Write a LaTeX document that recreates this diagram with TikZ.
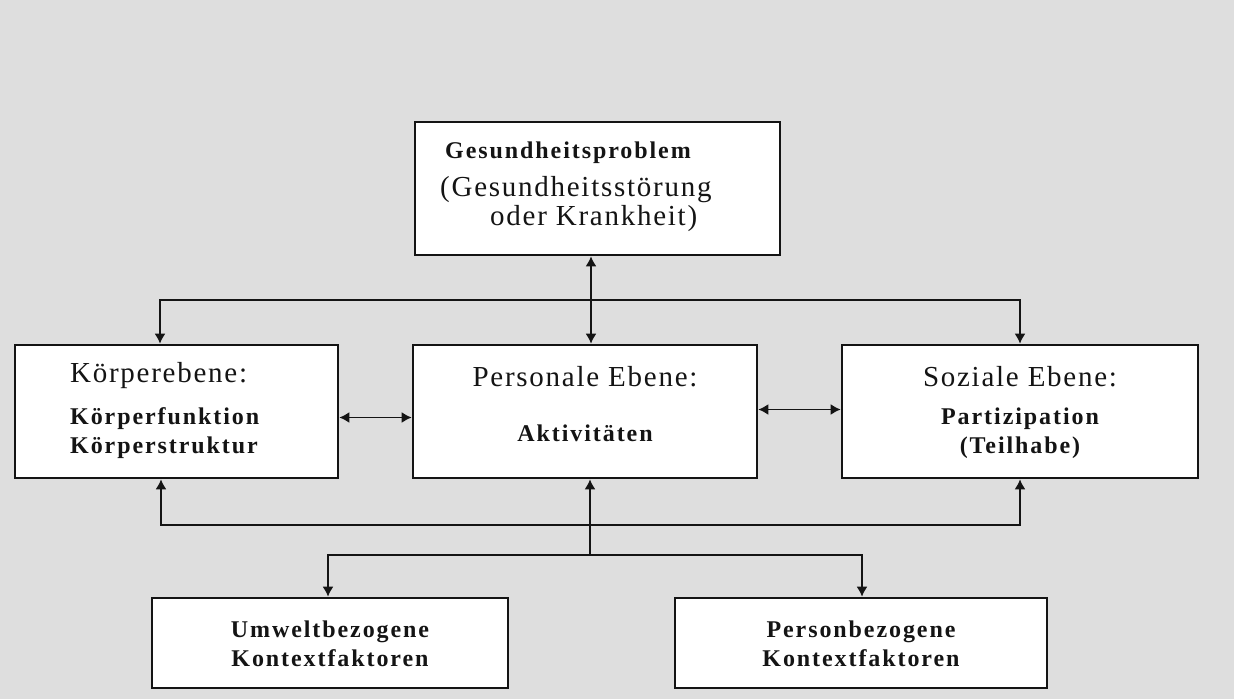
\documentclass[tikz,border=0pt]{standalone}
\usepackage{fontspec}
\setmainfont{Liberation Serif}
\usepackage{tikz}
\usetikzlibrary{arrows.meta}
\usetikzlibrary{positioning}
\usepackage{color}
\definecolor{paper}{RGB}{222, 222, 222}
\definecolor{ink}{RGB}{20, 20, 20}
\newcommand{\headfont}{\fontsize{29}{34}\selectfont\addfontfeatures{LetterSpace=6}}
\newcommand{\subfont}{\fontsize{24}{29}\selectfont\bfseries\addfontfeatures{LetterSpace=8}}

\begin{document}
\begin{tikzpicture}[x=1pt, y=-1pt,
        ebene/.style ={draw=ink, line width=2.6pt, fill=white, inner sep=0pt},
        kopf/.style  ={font=\headfont, text=ink, inner sep=0pt},
        inhalt/.style={font=\subfont, text=ink, inner sep=0pt, align=center},
        pfeil/.style ={draw=ink, line width=1.8pt, -{Latex[length=10pt, width=11pt]}},
        beide/.style ={pfeil, {Latex[length=10pt, width=11pt]}-{Latex[length=10pt, width=11pt]}}]
            \fill[paper]                                        (   0,   0) rectangle (1234, 699);
            \useasboundingbox                                   (   0,   0) rectangle (1234, 699);
            % Kaesten
            \node[ebene, minimum width=365, minimum height=133] (gp) at ( 597.5, 188.5) {};
            \node[ebene, minimum width=323, minimum height=133] (ke) at ( 176.5, 411.5) {};
            \node[ebene, minimum width=344, minimum height=133] (pe) at ( 585.0, 411.5) {};
            \node[ebene, minimum width=356, minimum height=133] (se) at (1020.0, 411.5) {};
            \node[ebene, minimum width=356, minimum height= 90] (uk) at ( 330.0, 643.0) {};
            \node[ebene, minimum width=372, minimum height= 90] (pk) at ( 861.0, 643.0) {};
            % Texte
            \node[inhalt, anchor=west] (gpa) at ( 445, 153) {Gesundheitsproblem};
            \node[kopf,   anchor=west] (gpb) at ( 440, 190) {(Gesundheitsstörung};
            \node[kopf,   anchor=west] (gpc) at ( 490, 219) {oder Krankheit)};
            \node[kopf,   anchor=west] (kea) at (  70, 376) {Körperebene:};
            \node[inhalt, anchor=west, align=left] (keb) at (70, 433) {Körperfunktion\\Körperstruktur};
            \node[kopf]                (pea) at ( 585, 377) {Personale Ebene:};
            \node[inhalt]              (peb) at ( 585, 433) {Aktivitäten};
            \node[kopf]                (sea) at (1020, 377) {Soziale Ebene:};
            \node[inhalt]              (seb) at (1020, 433) {Partizipation\\(Teilhabe)};
            \node[inhalt]              (uka) at ( 330, 644) {Umweltbezogene\\Kontextfaktoren};
            \node[inhalt]              (pka) at ( 861, 644) {Personbezogene\\Kontextfaktoren};
            % Knoten der Verbindungen
            \coordinate (oben)   at ( 591, 300);
            \coordinate (obenl)  at ( 160, 300);
            \coordinate (obenr)  at (1020, 300);
            \coordinate (unten)  at ( 590, 525);
            \coordinate (untenl) at ( 161, 525);
            \coordinate (untenr) at (1020, 525);
            \coordinate (kontx)  at ( 590, 555);
            \coordinate (kontl)  at ( 328, 555);
            \coordinate (kontr)  at ( 862, 555);
            % Verbindungen
            \draw[pfeil] (oben) -- (oben |- gp.south);
            \draw[pfeil] (oben) -- (oben |- pe.north);
            \draw[pfeil] (oben) -- (obenl) -- (obenl |- ke.north);
            \draw[pfeil] (oben) -- (obenr) -- (obenr |- se.north);
            \draw[pfeil] (unten) -- (untenl) -- (untenl |- ke.south);
            \draw[pfeil] (unten) -- (untenr) -- (untenr |- se.south);
            \draw[pfeil] (kontx) -- (kontx |- pe.south);
            \draw[pfeil] (kontx) -- (kontl) -- (kontl |- uk.north);
            \draw[pfeil] (kontx) -- (kontr) -- (kontr |- pk.north);
            \draw[beide] ([yshift=-6pt]ke.east) -- ([yshift=-6pt]pe.west);
            \draw[beide] ([yshift= 2pt]pe.east) -- ([yshift= 2pt]se.west);
\end{tikzpicture}
\end{document}
